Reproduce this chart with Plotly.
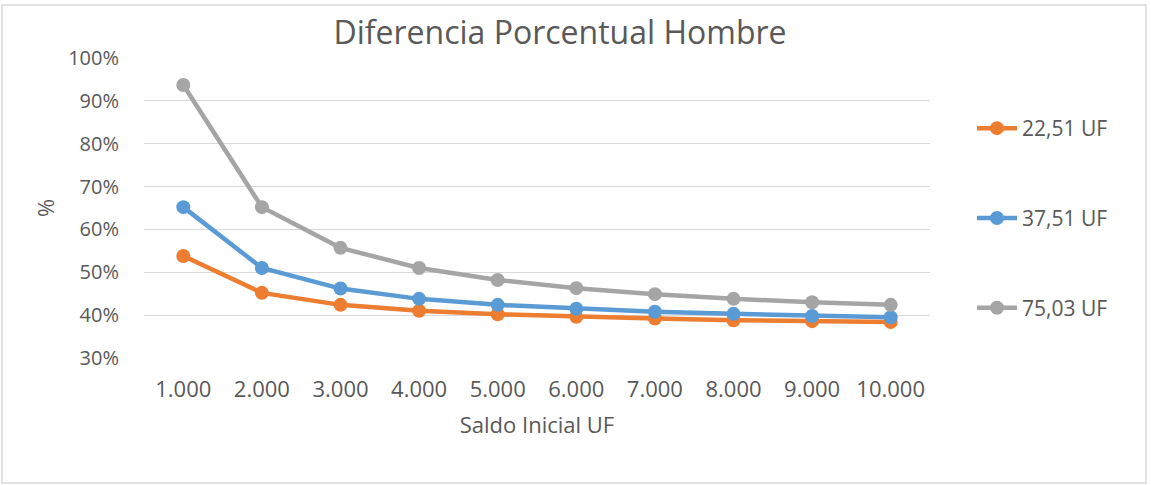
import plotly.graph_objects as go

categories = ["1.000", "2.000", "3.000", "4.000", "5.000", "6.000", "7.000", "8.000", "9.000", "10.000"]
series_names = ["22,51 UF", "37,51 UF", "75,03 UF"]
s_22 = [53.8, 45.2, 42.4, 41.0, 40.2, 39.6, 39.2, 38.8, 38.6, 38.4]
s_37 = [65.2, 51.0, 46.2, 43.8, 42.4, 41.5, 40.8, 40.3, 39.8, 39.5]
s_75 = [93.7, 65.2, 55.7, 51.0, 48.2, 46.3, 44.9, 43.8, 43.0, 42.4]
y_ticks = [30, 40, 50, 60, 70, 80, 90, 100]
y_ticklabels = ["30%", "40%", "50%", "60%", "70%", "80%", "90%", "100%"]

colors = ["#ED7D31", "#5B9BD5", "#A5A5A5"]
FONT = "Open Sans"
TXT = "#595959"

fig = go.Figure()
for i, (name, vals) in enumerate(zip(series_names, [s_22, s_37, s_75])):
    fig.add_trace(go.Scatter(
        x=categories, y=vals, name=name, mode="lines+markers",
        line=dict(color=colors[i], width=4.5),
        marker=dict(color=colors[i], size=14),
        legendgroup=str(i),
    ))

W, H = 1151, 485
L, T = 144, 58
PR, PB = 930, 358
R, B = W - PR, H - PB
pw, ph = PR - L, PB - T

def px_x(x):
    return (x - L) / pw

def px_y(y):
    return 1 - (y - T) / ph

fig.update_layout(
    width=W, height=H,
    margin=dict(l=L, r=R, t=T, b=B),
    paper_bgcolor="white", plot_bgcolor="white",
    font=dict(family=FONT, color=TXT, size=20),
    title=dict(text="Diferencia Porcentual Hombre", x=560 / W, xanchor="center",
               y=1 - 33 / H, yanchor="middle",
               font=dict(size=32, color=TXT, family=FONT)),
    showlegend=True,
    legend=dict(x=px_x(972), xanchor="left", y=px_y(127 - 19), yanchor="top",
                tracegroupgap=59.5, font=dict(size=21, color=TXT), itemwidth=40,
                bgcolor="rgba(0,0,0,0)"),
    xaxis=dict(type="category", range=[-0.5, 9.5], showgrid=False, zeroline=False,
               showline=False, ticks="outside", ticklen=12, tickcolor="rgba(0,0,0,0)",
               tickfont=dict(size=22, color=TXT),
               title=dict(text="Saldo Inicial UF", font=dict(size=22, color=TXT), standoff=15)),
    yaxis=dict(range=[30, 100], tickvals=y_ticks, ticktext=y_ticklabels,
               showgrid=True, gridcolor="#D9D9D9", gridwidth=1.3, zeroline=False,
               showline=False, ticks="outside", ticklen=20, tickcolor="rgba(0,0,0,0)",
               tickfont=dict(size=20, color=TXT),
               title=dict(text="%", font=dict(size=22, color=TXT), standoff=7)),
)

# chart-area border
fig.add_shape(type="rect", xref="paper", yref="paper",
              x0=px_x(2), x1=px_x(1146), y0=px_y(483), y1=px_y(5),
              line=dict(color="#D9D9D9", width=1.5), fillcolor="rgba(0,0,0,0)", layer="below")

fig.write_html("out.html", config={"displayModeBar": False},
               post_script="document.body.style.margin='0';document.body.style.overflow='hidden';")
